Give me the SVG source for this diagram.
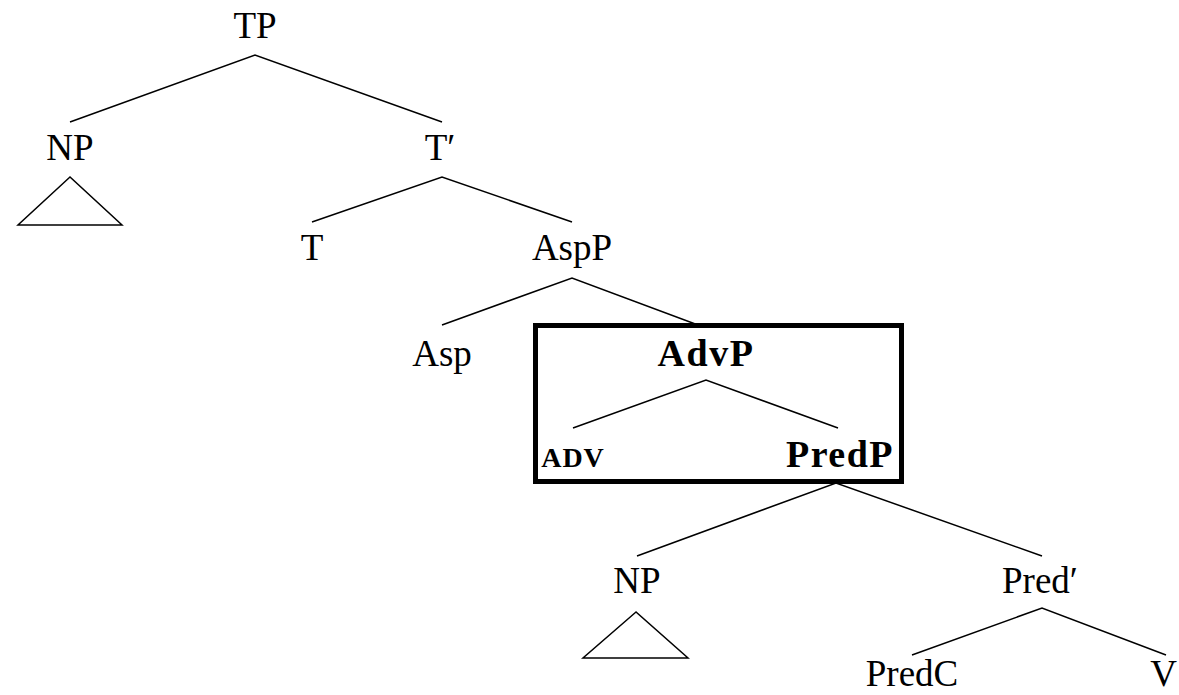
<svg xmlns="http://www.w3.org/2000/svg" width="1179" height="695" viewBox="0 0 1179 695">
  <style>
    .lbl { font-family: "Liberation Serif", "DejaVu Serif", serif; font-size: 37px; fill: #000; text-anchor: middle; }
    .bold { font-weight: bold; font-size: 38px; letter-spacing: 1.5px; }
    .sc { font-size: 28px; font-weight: bold; letter-spacing: 1px; }
    .right { text-anchor: end; }
    .edge { stroke: #000; stroke-width: 1.5; fill: none; }
    .tri { stroke: #000; stroke-width: 1.5; fill: none; stroke-linejoin: miter; }
    .frame { stroke: #000; stroke-width: 5; fill: none; }
  </style>
  <rect width="1179" height="695" fill="#fff"/>

  <!-- branches -->
  <g id="connectors">
    <polyline class="edge" points="70,122 255,55 442,122"/>
    <polyline class="edge" points="312,222 442,177 572,222"/>
    <polyline class="edge" points="442,325 572,278 698,325"/>
    <polyline class="edge" points="573,428 706,380 838,428"/>
    <polyline class="edge" points="637,556 836,483 1042,556"/>
    <polyline class="edge" points="912,655 1042,608 1166,655"/>
  </g>

  <!-- highlighted constituent -->
  <g id="advp-frame">
    <rect class="frame" x="535.5" y="325.5" width="366" height="156"/>
  </g>

  <g id="tp"><text class="lbl" x="255" y="38">TP</text></g>
  <g id="np-subject">
    <text class="lbl" x="70" y="160">NP</text>
    <polygon class="tri" points="70,177 18,225 122,225"/>
  </g>
  <g id="t-bar"><text class="lbl" x="440" y="160">T′</text></g>
  <g id="t"><text class="lbl" x="312" y="260">T</text></g>
  <g id="aspp"><text class="lbl" x="572" y="260">AspP</text></g>
  <g id="asp"><text class="lbl" x="442" y="366">Asp</text></g>
  <g id="advp"><text class="lbl bold" x="706" y="366">AdvP</text></g>
  <g id="adv"><text class="lbl sc" x="573" y="467">ADV</text></g>
  <g id="predp"><text class="lbl bold" x="840" y="467">PredP</text></g>
  <g id="np-pred">
    <text class="lbl" x="637" y="593">NP</text>
    <polygon class="tri" points="636,612 583,658 688,658"/>
  </g>
  <g id="pred-bar"><text class="lbl" x="1040" y="593">Pred′</text></g>
  <g id="predc"><text class="lbl" x="912" y="686">PredC</text></g>
  <g id="v"><text class="lbl right" x="1177" y="686">V</text></g>
</svg>
